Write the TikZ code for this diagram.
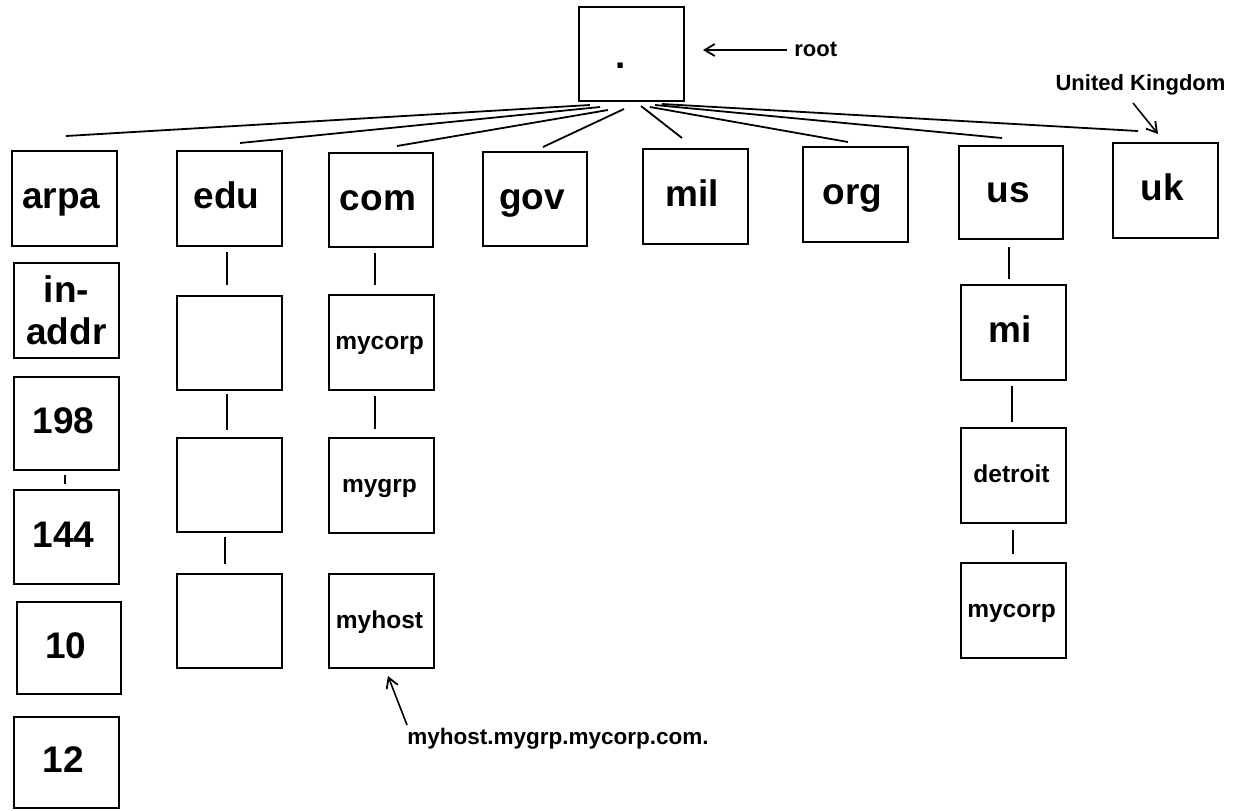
\documentclass[tikz,border=0pt]{standalone}
\usepackage{fontspec}
\setmainfont{Liberation Sans}
\usetikzlibrary{arrows.meta,calc}
\begin{document}
\begin{tikzpicture}[x=0.5pt,y=-0.5pt,
  bx/.style={draw,line width=1pt,inner sep=0pt,align=center,font=\bfseries\fontsize{18.5}{21}\selectfont},
  lb/.style={text height=10pt,text depth=0pt,execute at end node=\hspace{3pt}},
  sz/.style n args={2}{minimum width=#1*0.5pt,minimum height=#2*0.5pt},
  sm/.style={font=\bfseries\fontsize{12.25}{14}\selectfont,text height=7pt,text depth=0pt,execute at end node=\hspace{2pt}},
  conn/.style={line width=0.8pt},
  fan/.style={line width=0.9pt},
  note/.style={inner sep=0pt,font=\bfseries\fontsize{11}{13}\selectfont},
  arr/.style={line width=0.8pt,-{Straight Barb[length=5pt,width=6pt,line width=0.9pt]}}
]
\useasboundingbox (0,0) rectangle (1245,810);

% root
\node[bx,sz={105}{94}] (root) at (631.5,54) {};
\node[inner sep=0pt,anchor=base,font=\bfseries\fontsize{18.5}{21}\selectfont] (dot) at (621,68) {.};

% top level
\node[bx,lb,sz={105}{95}] (arpa) at (64.5,198.5) {arpa};
\node[bx,lb,sz={105}{95}] (edu)  at (229.5,198.5) {edu};
\node[bx,lb,sz={104}{94}] (com)  at (381,200) {com};
\node[bx,lb,sz={104}{94}] (gov)  at (535,199) {gov};
\node[bx,lb,sz={105}{95}] (mil)  at (695.5,196.5) {mil};
\node[bx,lb,sz={105}{95}] (org)  at (855.5,194.5) {org};
\node[bx,lb,sz={104}{93}] (us)   at (1011,192.5) {us};
\node[bx,lb,sz={105}{95}] (uk)   at (1165.5,190.5) {uk};

% arpa column
\node[bx,sz={105}{95}] (inaddr) at (66.5,310.5) {in-\\addr};
\node[bx,lb,sz={105}{93}] (n198) at (66.5,423.5) {198};
\node[bx,lb,sz={105}{94}] (n144) at (66.5,537) {144};
\node[bx,lb,sz={104}{92}] (n10)  at (69,648) {10};
\node[bx,lb,sz={105}{91}] (n12)  at (66.5,762.5) {12};

% edu column
\node[bx,sz={105}{94}] (e1) at (229.5,343) {};
\node[bx,sz={105}{94}] (e2) at (229.5,485) {};
\node[bx,sz={105}{94}] (e3) at (229.5,621) {};

% com column
\node[bx,sm,sz={105}{95}] (mycorp) at (381.5,342.5) {mycorp};
\node[bx,sm,sz={105}{95}] (mygrp)  at (381.5,485.5) {mygrp};
\node[bx,sm,sz={105}{94}] (myhost) at (381.5,621) {myhost};

% us column
\node[bx,lb,sz={105}{95}] (mi) at (1013.5,332.5) {mi};
\node[bx,sm,sz={105}{95}] (detroit) at (1013.5,475.5) {detroit};
\node[bx,sm,sz={105}{95}] (mycorpb) at (1013.5,610.5) {mycorp};

% fan from root
\draw[fan] ($(root.south)+(-41.5,3)$) -- ($(arpa.north)+(1.5,-14)$);
\draw[fan] ($(root.south)+(-31.5,5)$) -- ($(edu.north)+(10.5,-7)$);
\draw[fan] ($(root.south)+(-23.5,8)$) -- ($(com.north)+(16,-6)$);
\draw[fan] ($(root.south)+(-7.5,7)$) -- ($(gov.north)+(8,-4)$);
\draw[fan] ($(root.south)+(9.5,4)$) -- ($(mil.north)+(-13.5,-10)$);
\draw[fan] ($(root.south)+(18.5,5)$) -- ($(org.north)+(-7.5,-4)$);
\draw[fan] ($(root.south)+(23.5,3)$) -- ($(us.north)+(-9,-7)$);
\draw[fan] ($(root.south)+(30.5,2)$) -- ($(uk.north)+(-27.5,-11)$);

% vertical connectors
\draw[conn] ($(edu.south)+(-2.5,5)$) -- ($(e1.north)+(-2.5,-10)$);
\draw[conn] ($(e1.south)+(-2.5,3)$) -- ($(e2.north)+(-2.5,-7)$);
\draw[conn] ($(e2.south)+(-4.5,4)$) -- ($(e3.north)+(-4.5,-9)$);
\draw[conn] ($(com.south)+(-6,5)$) -- ($(mycorp.north)+(-6.5,-9)$);
\draw[conn] ($(mycorp.south)+(-6.5,5)$) -- ($(mygrp.north)+(-6.5,-8)$);
\draw[conn] ($(us.south)+(-2,7)$) -- ($(mi.north)+(-4.5,-5)$);
\draw[conn] ($(mi.south)+(-1.5,5)$) -- ($(detroit.north)+(-1.5,-5)$);
\draw[conn] ($(detroit.south)+(-0.5,6)$) -- ($(mycorpb.north)+(-0.5,-8)$);
\draw[conn] ($(n198.south)+(-1.5,4)$) -- ($(n144.north)+(-1.5,-5)$);

% annotations
\node[note,anchor=west] (rootlbl) at (794,49) {root};
\draw[arr] ($(rootlbl.west)+(-7,1)$) -- ($(root.east)+(18,-4)$);

\node[note] (uklbl) at (1140.5,85) {United Kingdom};
\draw[arr] ($(uklbl.center)+(-7.5,18)$) -- ($(uk.north)+(-7.5,-8)$);

\node[note,anchor=west,font=\bfseries\fontsize{11.25}{13}\selectfont] (fqdn) at (407,739) {myhost.mygrp.mycorp.com.};
\draw[arr] ($(fqdn.west)+(0,-14)$) -- ($(myhost.south)+(6.5,7)$);
\end{tikzpicture}
\end{document}
